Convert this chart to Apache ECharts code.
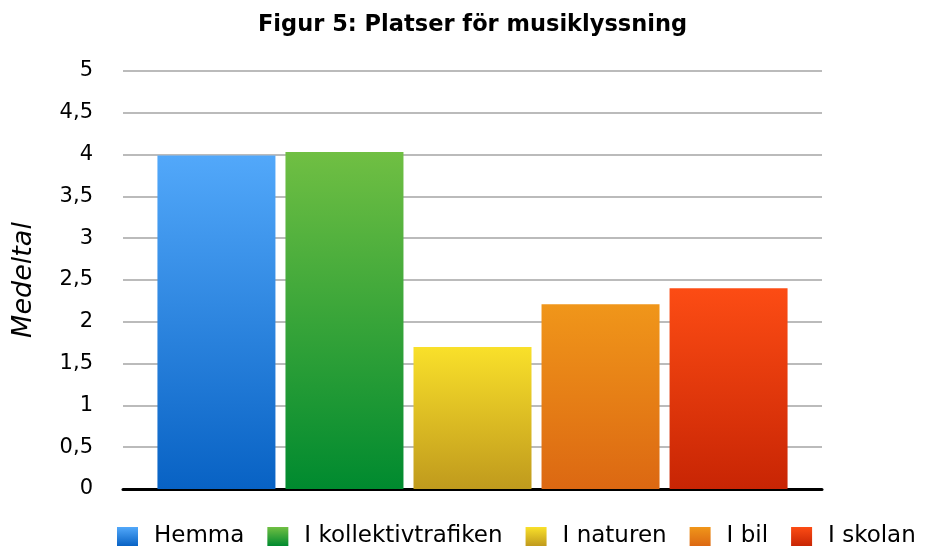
<!DOCTYPE html>
<html>
<head>
<meta charset="utf-8" />
<script src="https://cdn.jsdelivr.net/npm/echarts@6/dist/echarts.min.js"></script>
<title>Figur 5</title>
<style>
  html, body { margin: 0; padding: 0; background: #fff; }
  #main { width: 931px; height: 550px; }
</style>
</head>
<body>
<div id="main"></div>
<script>
var places = ['Hemma', 'I kollektivtrafiken', 'I naturen', 'I bil', 'I skolan'];
var means = [3.99, 4.03, 1.70, 2.21, 2.40];
var topColors = ['#52a8fa', '#70bf43', '#f9e02a', '#f0961a', '#fc4c14'];
var bottomColors = ['#0862c4', '#008a2f', '#c09a1d', '#dc6812', '#c82504'];

var chart = echarts.init(document.getElementById('main'));
var font = 'DejaVu Sans, Verdana, sans-serif';

var series = [];
for (var i = 0; i < places.length; i++) {
  series.push({
    name: places[i],
    type: 'bar',
    barWidth: 118,
    barGap: '8.5%',
    data: [means[i]],
    itemStyle: {
      color: new echarts.graphic.LinearGradient(0, 0, 0, 1, [
        { offset: 0, color: topColors[i] },
        { offset: 1, color: bottomColors[i] }
      ])
    }
  });
}

var option = {
  animation: false,
  title: {
    text: 'Figur 5: Platser för musiklyssning',
    left: 253,
    top: 9,
    textStyle: { fontFamily: font, fontSize: 22.5, fontWeight: 'bold', color: '#000' }
  },
  legend: {
    data: places,
    left: 117,
    right: 0,
    top: 520,
    padding: [5, 0, 5, 0],
    icon: 'rect',
    itemWidth: 21,
    itemHeight: 19,
    itemGap: 23,
    textStyle: { fontFamily: font, fontSize: 23, color: '#000', padding: [0, 0, 0, 11] }
  },
  grid: { left: 123, right: 109, top: 71, bottom: 61, outerBoundsMode: 'none' },
  xAxis: {
    type: 'category',
    data: [''],
    axisTick: { show: false },
    axisLabel: { show: false },
    axisLine: { lineStyle: { color: '#000', width: 3 } }
  },
  yAxis: {
    type: 'value',
    min: 0,
    max: 5,
    interval: 0.5,
    name: 'Medeltal',
    nameLocation: 'middle',
    nameGap: 86,
    nameTextStyle: { fontFamily: font, fontSize: 27, fontStyle: 'italic', color: '#000' },
    axisLine: { show: false },
    axisTick: { show: false },
    axisLabel: {
      margin: 30,
      fontFamily: font,
      fontSize: 21,
      color: '#000',
      formatter: function (v) { return String(v).replace('.', ','); }
    },
    splitLine: { lineStyle: { color: '#bbbbbb', width: 2 } }
  },
  series: series
};

chart.setOption(option);
</script>
</body>
</html>
